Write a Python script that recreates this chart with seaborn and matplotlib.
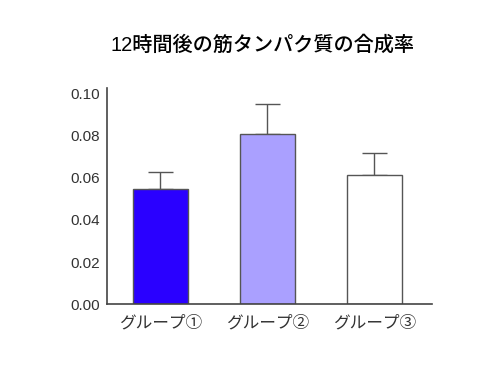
import numpy as np
import pandas as pd
import matplotlib
matplotlib.use("Agg")
import matplotlib.pyplot as plt
import seaborn as sns

groups = ["グループ①", "グループ②", "グループ③"]
means = [0.0548, 0.0805, 0.0611]
errors = [0.0078, 0.0143, 0.0105]
colors = ["#2a00ff", "#aaa0ff", "#ffffff"]

sns.set_style("white")
plt.rcParams['font.family'] = ['Liberation Sans', 'Noto Sans CJK JP', 'DejaVu Sans']

df = pd.DataFrame({"group": groups, "mean": means})

fig, ax = plt.subplots(figsize=(5.04, 3.71), dpi=100)
sns.barplot(data=df, x="group", y="mean", hue="group", palette=colors,
            saturation=1, width=0.515, edgecolor="#555555", linewidth=1.0,
            legend=False, ax=ax)
ax.errorbar(np.arange(len(groups)), means, yerr=[np.zeros(3), errors],
            fmt="none", ecolor="#555555", elinewidth=1.0, capsize=9, capthick=1.0,
            zorder=0)

ax.set_ylim(0, 0.1024)
ax.set_xlim(-0.5, 2.54)
ax.set_yticks(np.arange(0, 0.101, 0.02))
ax.set_yticklabels(["{:.2f}".format(v) for v in np.arange(0, 0.101, 0.02)])
ax.set_xlabel("")
ax.set_ylabel("")
ax.tick_params(axis="y", labelsize=11, colors="#333333", length=0, pad=5)
ax.tick_params(axis="x", labelsize=12, colors="#333333", length=0, pad=8)
sns.despine(ax=ax)
for s in ["left", "bottom"]:
    ax.spines[s].set_color("#444444")
    ax.spines[s].set_linewidth(1.2)
ax.set_title("12時間後の筋タンパク質の合成率", fontsize=14.5, pad=27,
             color="black", fontweight="medium", x=0.48)

fig.subplots_adjust(left=0.212, right=0.857, bottom=0.18, top=0.762)
fig.savefig("out.png", dpi=100)
